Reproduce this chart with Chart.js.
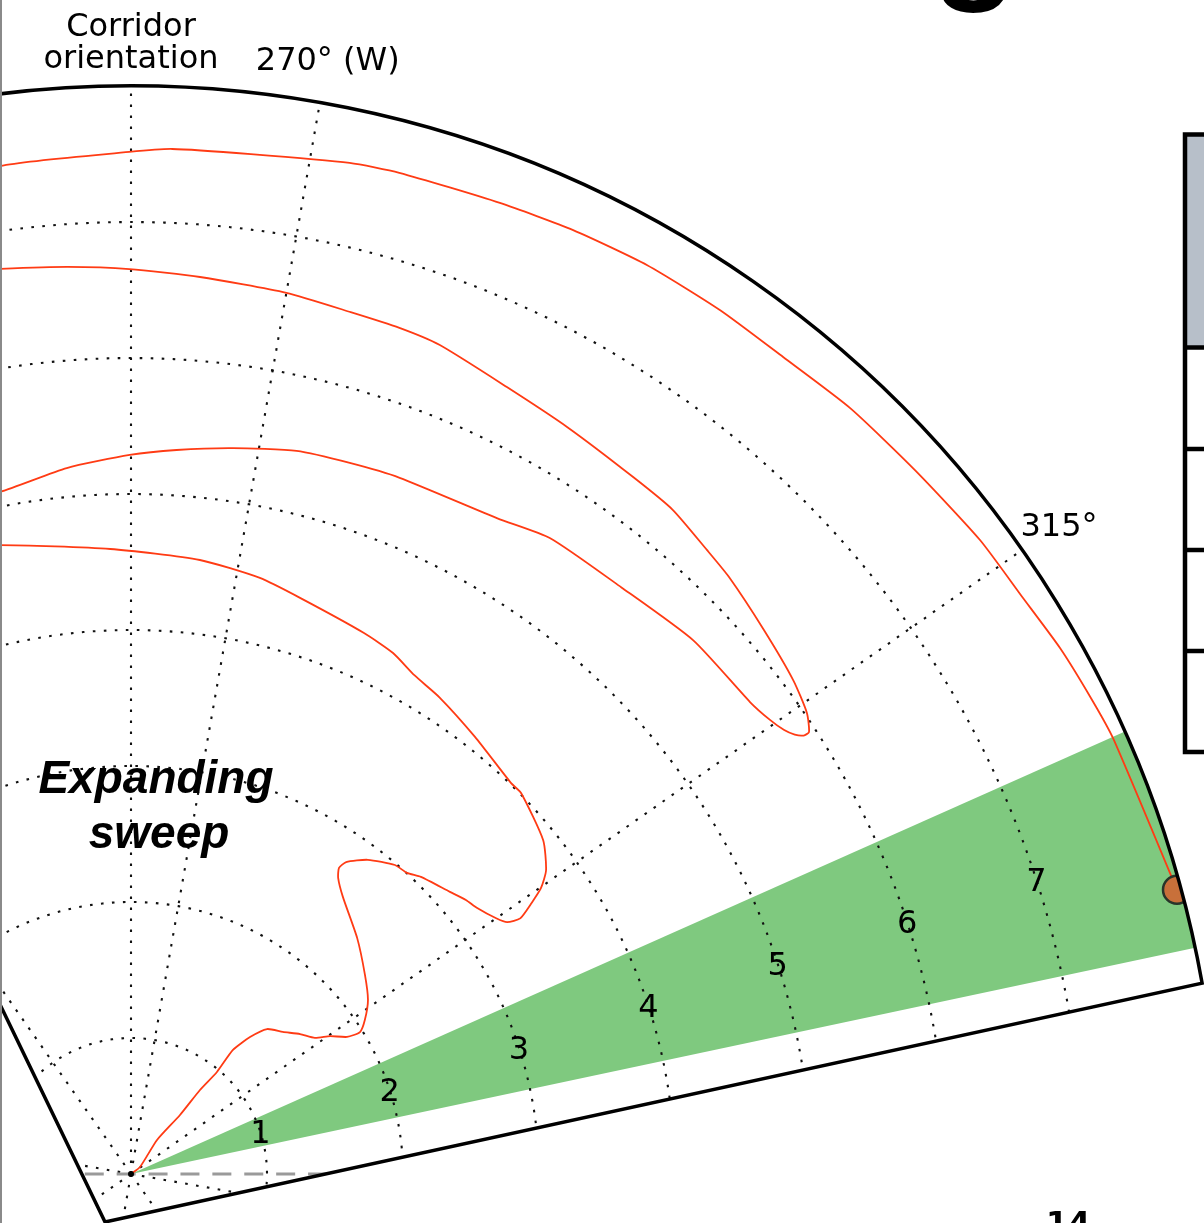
<!DOCTYPE html>
<html>
<head>
<meta charset="utf-8">
<script src="https://cdn.jsdelivr.net/npm/chart.js@4.4.1/dist/chart.umd.min.js"></script>
<style>
  html, body { margin: 0; padding: 0; background: #ffffff; overflow: hidden; }
  canvas { display: block; }
</style>
</head>
<body>
<canvas id="sweep" width="1204" height="1223"></canvas>
<script>
// Bearing (deg) that points straight up on screen: the corridor orientation
const corridorBearing = 260;

// Sweep track from the launch point: bearing (deg) and range (grid units)
const pathBearing = [
  300, 312.1, 297.4, 299.7, 299.4, 300.1, 299.4, 301.0, 303.2, 306.9,
  310.4, 313.5, 315.3, 317.6, 318.2, 316.6, 313.7, 309.6, 303.8, 297.4,
  295.0, 294.2, 294.6, 297.0, 300.5, 302.5, 304.3, 308.5, 310.7, 312.4,
  315.0, 316.2, 316.7, 315.9, 315.1, 313.8, 311.0, 305.7, 304.2, 298.2,
  292.9, 289.6, 286.7, 283.3, 276.4, 272.2, 266.4, 258.1, 248.2,
  244, 241, 240, 241, 244,
  249.1, 254.8, 259.9, 263.6, 268.0, 272.9, 277.1, 281.1, 289.2, 293.4,
  299.9, 306.5, 312.7, 314.6, 315.8, 316.5, 316.9, 316.9, 315.7, 313.3,
  309.3, 305.05, 302.7, 299.2, 295.8, 290.3, 285.5, 280.4, 277.6, 274.3,
  270.0, 264.4, 259.9, 256.0, 251.8,
  248, 245.5, 245, 246, 248.5,
  252.6, 259.9, 262.3, 266.7, 272.2, 275.0, 280.8, 285.1, 289.6, 294.3,
  298.6, 303.2, 308.1, 313.25, 317.1, 320.5, 323.7, 326.1, 334.8
];
const pathRange = [
  0, 0.084, 0.315, 0.564, 0.799, 0.981, 1.181, 1.334, 1.462, 1.529,
  1.614, 1.682, 1.781, 1.881, 1.981, 2.060, 2.162, 2.259, 2.403, 2.565,
  2.656, 2.721, 2.786, 2.893, 2.988, 3.003, 3.052, 3.131, 3.182, 3.209,
  3.278, 3.328, 3.424, 3.559, 3.676, 3.782, 3.900, 4.009, 4.009, 4.090,
  4.175, 4.218, 4.288, 4.331, 4.414, 4.484, 4.543, 4.598, 4.724,
  4.78, 4.88, 4.98, 5.07, 5.12,
  5.107, 5.212, 5.287, 5.334, 5.390, 5.454, 5.470, 5.487, 5.523, 5.600,
  5.622, 5.700, 5.724, 5.764, 5.807, 5.853, 5.904, 5.951, 6.016, 6.074,
  6.137, 6.213, 6.244, 6.302, 6.316, 6.360, 6.413, 6.505, 6.527, 6.540,
  6.579, 6.615, 6.654, 6.686, 6.724,
  6.78, 6.90, 7.05, 7.22, 7.36,
  7.474, 7.515, 7.543, 7.551, 7.606, 7.621, 7.638, 7.664, 7.685, 7.688,
  7.686, 7.725, 7.747, 7.791, 7.807, 7.850, 7.879, 7.900, 7.970
];

// Final position of the sweep
const endBearing = [334.8];
const endRange = [7.97];

// Highlighted search sector (bearing limits) and its extent
const sectorBearings = [326, 338];
const sectorRange = 8;

// Range rings and their labels
const ringRadii = [1, 2, 3, 4, 5, 6, 7];
const ringLabels = ['1', '2', '3', '4', '5', '6', '7'];
const ringLabelBearing = 332;

// Angular grid
const spokeBearings = [225, 270, 315, 0, 45, 90, 135, 180];
const tickBearings = [260, 270, 315];
const tickLabels = [['Corridor', 'orientation'], ['270\u00b0 (W)'], ['315\u00b0']];
const tickRange = 8.33;

// Reference heading through the launch point: bearings and ranges of its ends
const headingBearings = [170, 350];
const headingRanges = [0.34, 1.44];

// Outer limit of the plotting wedge
const outerRange = 8;
const wedgeBearings = [231.9, 339.9];
const wedgeVertex = { x: -0.191, y: -0.353 };

// ---- layout ----
const PX_PER_UNIT = 136;
const ORIGIN_PX = { x: 131, y: 1174 };
const W = 1204, H = 1223;
const TEXT_DROP = 3;   // optical centring of labels
const DEG = Math.PI / 180;

function toXY(bearing, r) {
  const a = (bearing - corridorBearing) * DEG;
  return { x: r * Math.sin(a), y: r * Math.cos(a) };
}
function polarPoints(bearings, ranges) {
  return bearings.map((b, i) => toXY(b, ranges[i]));
}
function arcPoints(r, from, to, step) {
  const pts = [];
  for (let b = from; b <= to + 1e-9; b += step) pts.push(toXY(b, r));
  return pts;
}

const dotted = {
  showLine: true, pointRadius: 0, borderColor: '#111111', borderWidth: 2.1,
  borderDash: [2.6, 8.4], borderCapStyle: 'butt', fill: false, clipToWedge: true, order: 5
};

const datasets = [];

// green sector
datasets.push({
  data: [{ x: 0, y: 0 }, ...arcPoints(sectorRange, sectorBearings[0], sectorBearings[1], 0.25), { x: 0, y: 0 }],
  showLine: true, pointRadius: 0, borderWidth: 0, borderColor: 'rgba(0,0,0,0)',
  backgroundColor: '#7fc97f', fill: 'shape', order: 8
});

// range rings
ringRadii.forEach(r => {
  datasets.push(Object.assign({}, dotted, { data: arcPoints(r, 205, 375, 1) }));
});

// spokes and corridor line
spokeBearings.concat([corridorBearing]).forEach(b => {
  datasets.push(Object.assign({}, dotted, { data: [{ x: 0, y: 0 }, toXY(b, outerRange + 0.5)] }));
});

// heading reference
datasets.push({
  data: polarPoints(headingBearings, headingRanges),
  showLine: true, pointRadius: 0, borderColor: '#9a9a9a', borderWidth: 3,
  borderDash: [19, 12.9], fill: false, clipToWedge: true, order: 4
});

// sweep track
datasets.push({
  data: polarPoints(pathBearing, pathRange),
  showLine: true, pointRadius: 0, borderColor: '#ff3b14', borderWidth: 1.8,
  borderJoinStyle: 'round', tension: 0.2, fill: false, clipToWedge: true, order: 2
});

// launch point
datasets.push({
  data: [{ x: 0, y: 0 }], showLine: false, pointRadius: 3,
  backgroundColor: '#000000', borderWidth: 0, order: 1
});

// end point
datasets.push({
  data: polarPoints(endBearing, endRange), showLine: false, pointRadius: 14,
  backgroundColor: '#c8703a', borderColor: '#28352a', borderWidth: 2.5,
  clipToWedge: true, order: 0
});

function wedgePath(ctx, chart) {
  const xs = chart.scales.x, ys = chart.scales.y;
  const cx = xs.getPixelForValue(0), cy = ys.getPixelForValue(0);
  const R = xs.getPixelForValue(outerRange) - cx;
  const vx = xs.getPixelForValue(wedgeVertex.x), vy = ys.getPixelForValue(wedgeVertex.y);
  const a1 = (wedgeBearings[1] - corridorBearing - 90) * DEG;
  const a0 = (wedgeBearings[0] - corridorBearing - 90) * DEG;
  ctx.beginPath();
  ctx.moveTo(vx, vy);
  ctx.lineTo(cx + R * Math.cos(a1), cy + R * Math.sin(a1));
  ctx.arc(cx, cy, R, a1, a0, true);
  ctx.closePath();
}

function pix(chart, bearing, r) {
  const p = toXY(bearing, r);
  return { x: chart.scales.x.getPixelForValue(p.x), y: chart.scales.y.getPixelForValue(p.y) };
}

const wedgePlugin = {
  id: 'wedgePlugin',
  beforeDatasetDraw(chart, args) {
    const ds = chart.data.datasets[args.index];
    if (ds.clipToWedge) {
      chart.ctx.save();
      wedgePath(chart.ctx, chart);
      chart.ctx.clip();
    }
  },
  afterDatasetDraw(chart, args) {
    const ds = chart.data.datasets[args.index];
    if (ds.clipToWedge) chart.ctx.restore();
  },
  afterDatasetsDraw(chart) {
    const ctx = chart.ctx;
    ctx.save();

    // wedge outline
    wedgePath(ctx, chart);
    ctx.lineWidth = 3.5;
    ctx.strokeStyle = '#000000';
    ctx.lineJoin = 'miter';
    ctx.stroke();

    // ring labels
    ctx.fillStyle = '#000000';
    ctx.font = '32px "DejaVu Sans"';
    ctx.textAlign = 'center';
    ctx.textBaseline = 'middle';
    ringRadii.forEach((r, i) => {
      const p = pix(chart, ringLabelBearing, r);
      ctx.fillText(ringLabels[i], p.x, p.y + TEXT_DROP);
    });

    // angular tick labels
    tickBearings.forEach((b, i) => {
      const p = pix(chart, b, tickRange);
      const lines = tickLabels[i];
      const lh = 32;
      lines.forEach((t, j) => {
        ctx.fillText(t, p.x, p.y + TEXT_DROP + (j - (lines.length - 1) / 2) * lh);
      });
    });

    // sweep pattern annotation
    const a = pix(chart, 263.9, 2.81);
    ctx.font = 'italic bold 46px "Liberation Sans"';
    ctx.textBaseline = 'alphabetic';
    ctx.fillText('Expanding', a.x - 1, a.y);
    ctx.fillText('sweep', a.x + 2, a.y + 55);

    // neighbouring panel edges
    ctx.fillStyle = '#8a8a8a';
    ctx.fillRect(0, 0, 2, H);

    ctx.fillStyle = '#b7bfc9';
    ctx.fillRect(1186, 136, 18, 210);
    ctx.strokeStyle = '#000000';
    ctx.lineWidth = 4.5;
    ctx.beginPath();
    ctx.moveTo(1210, 134.5); ctx.lineTo(1185, 134.5); ctx.lineTo(1185, 752); ctx.lineTo(1210, 752);
    ctx.stroke();
    [347.5, 449, 550, 651].forEach(y => {
      ctx.beginPath(); ctx.moveTo(1185, y); ctx.lineTo(1210, y); ctx.stroke();
    });

    ctx.fillStyle = '#000000';
    ctx.font = 'bold 140px "Liberation Sans"';
    ctx.textAlign = 'center';
    ctx.fillText('g', 975, -17);
    ctx.font = 'bold 32px "DejaVu Sans"';
    ctx.textAlign = 'left';
    ctx.fillText('14', 1046, 1234);

    ctx.restore();
  }
};

new Chart(document.getElementById('sweep'), {
  type: 'scatter',
  data: { datasets },
  options: {
    responsive: false,
    devicePixelRatio: 1,
    animation: false,
    events: [],
    layout: { padding: 0, autoPadding: false },
    plugins: { legend: { display: false }, tooltip: { enabled: false } },
    scales: {
      x: { type: 'linear', display: false, min: -ORIGIN_PX.x / PX_PER_UNIT, max: (W - ORIGIN_PX.x) / PX_PER_UNIT },
      y: { type: 'linear', display: false, min: -(H - ORIGIN_PX.y) / PX_PER_UNIT, max: ORIGIN_PX.y / PX_PER_UNIT }
    }
  },
  plugins: [wedgePlugin]
});
</script>
</body>
</html>
